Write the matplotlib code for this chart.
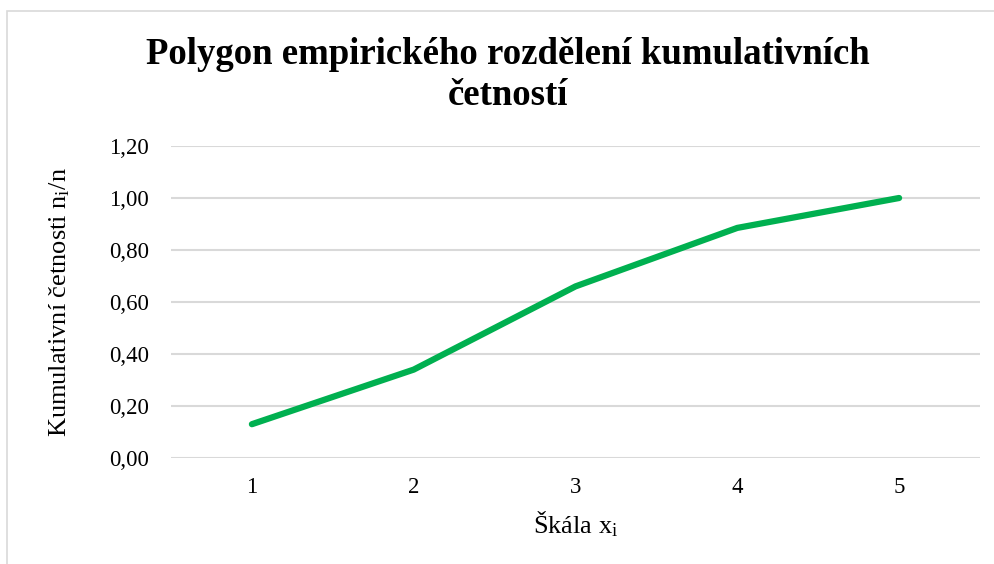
import matplotlib.pyplot as plt
from matplotlib.patches import Rectangle
from matplotlib.ticker import FuncFormatter

# data
skala = [1, 2, 3, 4, 5]
kum_cetnosti = [0.13, 0.34, 0.66, 0.885, 1.00]
y_ticks = [0, 0.2, 0.4, 0.6, 0.8, 1.0, 1.2]

plt.rcParams['font.family'] = ['Liberation Serif', 'DejaVu Serif']
plt.rcParams['mathtext.fontset'] = 'custom'
plt.rcParams['mathtext.rm'] = 'Liberation Serif'
plt.rcParams['mathtext.it'] = 'Liberation Serif'

fig = plt.figure(figsize=(9.95, 5.64), dpi=100)
ax = fig.add_axes([171/995, 1 - 458/564, (980-171)/995, (458-146)/564])

# chart border (only top and left visible)
fig.add_artist(Rectangle((7/995, -0.1), 1.2, (564-11)/564 + 0.1, transform=fig.transFigure,
                         fill=False, edgecolor='#d9d9d9', linewidth=1.2))

ax.plot(skala, kum_cetnosti, color='#00b050', linewidth=4.5, solid_capstyle='round',
        solid_joinstyle='round', zorder=3)

ax.set_xlim(0.5, 5.5)
ax.set_ylim(0, 1.2)
ax.set_xticks(skala)
ax.set_yticks(y_ticks)
ax.yaxis.set_major_formatter(FuncFormatter(lambda v, p: f'{v:.2f}'.replace('.', ',')))
ax.grid(axis='y', color='#d9d9d9', linewidth=1.5)
ax.set_axisbelow(True)
for s in ax.spines.values():
    s.set_visible(False)
ax.tick_params(length=0, labelsize=16.5, colors='#000000')
ax.tick_params(axis='x', pad=14)
ax.tick_params(axis='y', pad=16)

ax.set_xlabel('Škála x$_\\mathrm{i}$', fontsize=19, labelpad=8)
ax.set_ylabel('Kumulativní četnosti n$_\\mathrm{i}$/n', fontsize=19)
ax.yaxis.set_label_coords(72/995, 1 - 302/564, transform=fig.transFigure)

fig.text(508/995, 1 - 75/564, 'Polygon empirického rozdělení kumulativních\nčetností',
         ha='center', va='center', fontsize=26.5, fontweight='bold', linespacing=1.2)

fig.savefig('out.png', dpi=100)
